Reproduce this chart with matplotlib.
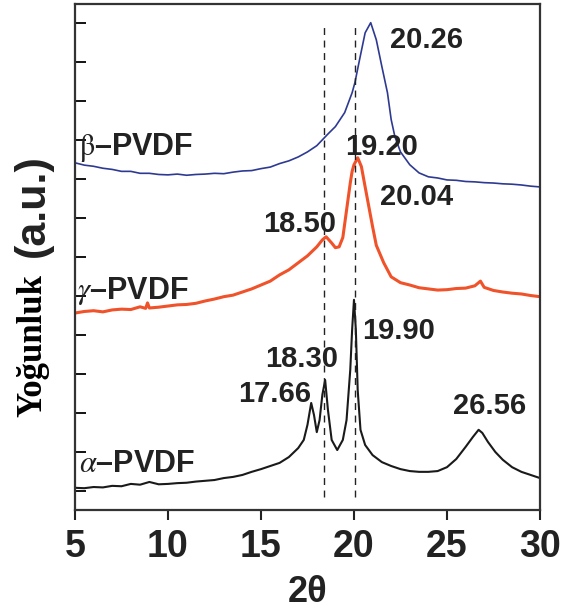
import matplotlib.pyplot as plt

# XRD patterns (2theta, intensity in arbitrary offset units)
beta_x = [5.0, 5.5, 6.0, 6.5, 7.0, 7.5, 8.0, 8.5, 9.0, 9.5, 10.0, 10.5, 11.0, 11.5,
          12.0, 12.5, 13.0, 13.5, 14.0, 14.5, 15.0, 15.5, 16.0, 16.5, 17.0, 17.5,
          18.0, 18.3, 18.6, 19.0, 19.5, 19.9, 20.05, 20.3, 20.6, 20.9, 21.2, 21.5,
          21.8, 22.0, 22.2, 22.5, 23.0, 23.5, 24.0, 24.5, 25.0, 25.5, 26.0, 26.5,
          27.0, 27.5, 28.0, 28.5, 29.0, 29.5, 30.0]
beta_y = [8.92, 8.86, 8.83, 8.78, 8.75, 8.70, 8.70, 8.65, 8.65, 8.62, 8.61, 8.63,
          8.60, 8.62, 8.63, 8.65, 8.64, 8.68, 8.71, 8.72, 8.77, 8.81, 8.90, 8.97,
          9.07, 9.20, 9.36, 9.51, 9.66, 9.85, 10.21, 10.72, 10.98, 11.57, 12.26,
          12.52, 12.08, 11.39, 10.72, 10.03, 9.59, 9.20, 8.87, 8.66, 8.56, 8.53,
          8.48, 8.47, 8.44, 8.43, 8.41, 8.40, 8.38, 8.37, 8.35, 8.32, 8.30]

gamma_x = [5.0, 5.5, 6.0, 6.5, 7.0, 7.5, 8.0, 8.5, 8.8, 8.9, 9.0, 9.5, 10.0, 10.5,
           11.0, 11.5, 12.0, 12.5, 13.0, 13.5, 14.0, 14.5, 15.0, 15.5, 16.0, 16.5,
           17.0, 17.5, 18.0, 18.3, 18.5, 18.8, 19.0, 19.2, 19.4, 19.6, 19.8, 19.9,
           20.0, 20.2, 20.4, 20.6, 20.8, 21.0, 21.2, 21.6, 22.0, 22.5, 23.0, 23.5,
           24.0, 24.5, 25.0, 25.5, 26.0, 26.5, 26.8, 27.0, 27.5, 28.0, 28.5, 29.0,
           29.5, 30.0]
gamma_y = [5.06, 5.10, 5.12, 5.09, 5.14, 5.16, 5.15, 5.22, 5.18, 5.32, 5.19, 5.21,
           5.24, 5.27, 5.28, 5.31, 5.37, 5.42, 5.48, 5.52, 5.60, 5.68, 5.78, 5.88,
           6.04, 6.17, 6.35, 6.53, 6.76, 6.94, 7.02, 6.86, 6.74, 6.76, 7.00, 7.70,
           8.40, 8.70, 8.87, 9.05, 8.82, 8.30, 7.79, 7.28, 6.80, 6.35, 5.99, 5.84,
           5.78, 5.71, 5.68, 5.65, 5.66, 5.69, 5.70, 5.76, 5.88, 5.72, 5.64, 5.60,
           5.57, 5.55, 5.51, 5.48]

alpha_x = [5.0, 5.5, 6.0, 6.5, 7.0, 7.5, 8.0, 8.5, 9.0, 9.5, 10.0, 10.5, 11.0, 11.5,
           12.0, 12.5, 13.0, 13.5, 14.0, 14.5, 15.0, 15.5, 16.0, 16.5, 17.0, 17.3,
           17.5, 17.7, 17.85, 18.0, 18.15, 18.3, 18.45, 18.6, 18.8, 19.1, 19.4,
           19.6, 19.8, 19.9, 20.0, 20.1, 20.2, 20.35, 20.6, 21.0, 21.5, 22.0, 22.5,
           23.0, 23.5, 24.0, 24.5, 25.0, 25.5, 26.0, 26.4, 26.7, 26.9, 27.2, 27.6,
           28.0, 28.5, 29.0, 29.5, 30.0]
alpha_y = [0.57, 0.56, 0.59, 0.58, 0.62, 0.61, 0.67, 0.65, 0.72, 0.66, 0.67, 0.69,
           0.70, 0.73, 0.75, 0.77, 0.82, 0.85, 0.90, 0.98, 1.05, 1.13, 1.21, 1.36,
           1.59, 1.80, 2.19, 2.75, 2.44, 2.00, 2.31, 2.96, 3.34, 2.57, 1.80, 1.54,
           1.80, 2.31, 3.60, 4.63, 5.40, 4.63, 3.08, 2.06, 1.67, 1.41, 1.23, 1.13,
           1.05, 1.00, 0.98, 0.98, 1.00, 1.10, 1.31, 1.62, 1.88, 2.06, 1.98, 1.75,
           1.49, 1.29, 1.10, 0.98, 0.90, 0.82]

dash_x = [18.4, 20.05]

phase_labels = [r"$\mathrm{\beta}$–PVDF", r"$\gamma$–PVDF", r"$\alpha$–PVDF"]
phase_pos = [(5.2, 9.31), (5.1, 5.63), (5.2, 1.18)]

peak_labels = ["20.26", "19.20", "20.04", "18.50", "18.30", "17.66", "19.90", "26.56"]
peak_pos = [(21.94, 12.08), (19.52, 9.33), (21.40, 8.05), (15.1, 7.35),
            (15.2, 3.88), (13.76, 2.98), (20.43, 4.60), (25.32, 2.67)]

plt.rcParams["mathtext.fontset"] = "stix"
plt.rcParams["font.family"] = ["Liberation Sans", "DejaVu Sans"]

fig = plt.figure(figsize=(5.63, 6.14), dpi=100)
ax = fig.add_axes([0.1332, 0.1694, 0.8259, 0.8241])

# spectra
ax.plot(beta_x, beta_y, color="#2e3a92", lw=1.2)
ax.plot(gamma_x, gamma_y, color="#f0522a", lw=2.2)
ax.plot(alpha_x, alpha_y, color="#1a1a1a", lw=1.5)

# reference lines
for xv in dash_x:
    ax.plot([xv, xv], [0.33, 12.45], color="#222222", lw=1.0, ls=(0, (5, 4)))

for txt, (x, y) in zip(phase_labels, phase_pos):
    ax.text(x, y, txt, fontsize=22, fontweight="bold", color="#222222",
            ha="left", va="center")

for txt, (x, y) in zip(peak_labels, peak_pos):
    ax.text(x, y, txt, fontsize=21, fontweight="bold", color="#222222",
            ha="left", va="center")

ax.set_xlim(5, 30)
ax.set_ylim(0, 13)
ax.set_xticks([5, 10, 15, 20, 25, 30])
ax.set_yticks([0.5 + i for i in range(13)])
ax.set_yticklabels([])
ax.tick_params(axis="x", direction="out", length=7, width=1.5, pad=7,
               labelsize=27, colors="#222222")
ax.tick_params(axis="y", direction="in", length=8, width=1.3)
for lab in ax.get_xticklabels():
    lab.set_fontweight("bold")
for sp in ax.spines.values():
    sp.set_linewidth(1.6)
    sp.set_color("#333333")

ax.set_xlabel("2θ", fontsize=26, fontweight="bold", color="#222222", labelpad=7)

# y label: serif word plus sans unit, as in the original
fig.text(0.059, 0.438, "Yoğunluk", rotation=90, ha="center", va="center",
         fontsize=25, fontweight="bold", family=["Liberation Serif", "DejaVu Serif"])
fig.text(0.059, 0.666, "(a.u.)", rotation=90, ha="center", va="center",
         fontsize=31, fontweight="bold", color="#222222")

fig.savefig("out.png", dpi=100)
